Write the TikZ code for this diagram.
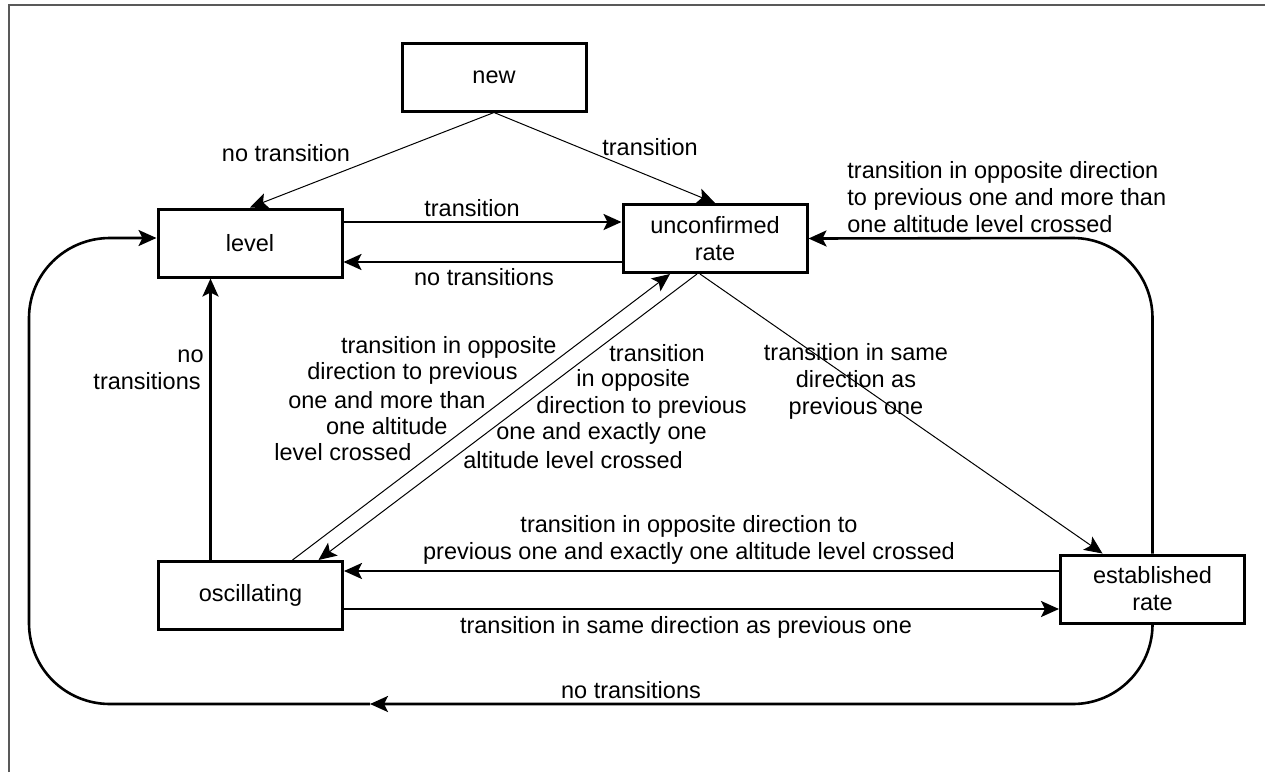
\documentclass[tikz,border=0pt]{standalone}
\usepackage{fontspec}
\setmainfont{Liberation Sans}
\usetikzlibrary{arrows.meta,calc}
\tikzset{
  txt/.style={font=\fontsize{11.75}{13.5}\selectfont},
  state/.style={txt, draw, line width=1.5pt, minimum width=92pt, minimum height=34pt,
    inner sep=0pt, align=center},
  thickline/.style={line width=1.3pt},
  thinline/.style={line width=0.5pt},
  tip/.style={-{Stealth[length=9pt,width=8pt,inset=2pt]}},
  lbl/.style={txt, inner sep=0pt},
  frameline/.style={draw=black!65, line width=1pt}
}
\begin{document}
\begin{tikzpicture}[x=0.5pt,y=-0.5pt]
\useasboundingbox (0,0) rectangle (1265,772);
\fill[white] (0,0) rectangle (1265,772);
\draw[frameline] (9,772) -- (9,5) -- (1265,5);

% states
\node[state] (new)   at (494,77)      {new};
\node[state] (level) at (250,243)     {level};
\node[state] (unc)   at (715,238.5)   {unconfirmed\\rate};
\node[state] (osc)   at (250.5,595.5) {oscillating};
\node[state] (est)   at (1152.5,589)  {established\\rate};

% transitions out of "new"
\draw[thinline,tip] (new.south) -- (level.north);
\draw[thinline,tip] (new.south) -- (unc.north);
\node[lbl] (l1) at (286,153) {no transition};
\node[lbl] (l2) at (650,147) {transition};

% level <-> unconfirmed rate
\draw[thickline,tip] ([yshift=10.5pt]level.east) -- ([yshift=10.5pt]level.east -| unc.west);
\draw[thickline,tip] ([yshift=-11.75pt]unc.west) -- ([yshift=-11.75pt]unc.west -| level.east);
\node[lbl] (l3) at (472,208) {transition};
\node[lbl] (l4) at (484,277) {no transitions};

% oscillating -> level
\draw[thickline,tip] ([xshift=-20pt]osc.north) -- ([xshift=-20pt]osc.north |- level.south);
\node[lbl,anchor=east] (l5a) at (204,356) {no};
\node[lbl,anchor=east] (l5b) at (201,381) {transitions};

% oscillating <-> unconfirmed rate
\draw[thinline,tip] ([xshift=21pt]osc.north) -- ([xshift=-22.5pt]unc.south);
\draw[thinline,tip] ([xshift=-9pt]unc.south) -- ([xshift=34pt]osc.north);
\node[lbl,anchor=east] (l6a) at (557,347) {transition in opposite};
\node[lbl,anchor=east] (l6b) at (518,373) {direction to previous};
\node[lbl,anchor=east] (l6c) at (486,400) {one and more than};
\node[lbl,anchor=east] (l6d) at (448,426) {one altitude};
\node[lbl,anchor=east] (l6e) at (412,452) {level crossed};
\node[lbl,anchor=west] (l7a) at (609,353) {transition};
\node[lbl,anchor=west] (l7b) at (576,380) {in opposite};
\node[lbl,anchor=west] (l7c) at (536,407) {direction to previous};
\node[lbl,anchor=west] (l7d) at (496,433) {one and exactly one};
\node[lbl,anchor=west] (l7e) at (463,460) {altitude level crossed};

% unconfirmed rate -> established rate
\draw[thinline,tip] ([xshift=-7.5pt]unc.south) -- ([xshift=-25pt]est.north);
\node[lbl,align=center] (l8) at (856,381) {transition in same\\direction as\\previous one};

% oscillating <-> established rate
\draw[thickline,tip] ([yshift=9pt]est.west) -- ([yshift=9pt]est.west -| osc.east);
\draw[thickline,tip] ([yshift=-6.75pt]osc.east) -- ([yshift=-6.75pt]osc.east -| est.west);
\node[lbl,align=center] (l9) at (689,540) {transition in opposite direction to\\previous one and exactly one altitude level crossed};
\node[lbl] (l10) at (686,627) {transition in same direction as previous one};

% established rate -> unconfirmed rate (right loop)
\draw[thickline,tip] (est.north) -- (est.north |- 0,318)
  .. controls (1152.5,274) and (1117,238) .. (1073,238) -- (unc.east);
\node[lbl,align=left,anchor=west] (l11) at (847,197)
  {transition in opposite direction\\to previous one and more than\\one altitude level crossed};

% established rate -> level (outer loop)
\coordinate (mid) at (370,704);
\draw[thickline,tip] (est.south) .. controls (1152.5,668) and (1117,704) .. (1073,704) -- (mid);
\draw[thickline,tip] (mid) -- (110,704) .. controls (65,704) and (29,668) .. (29,623)
  -- (29,318) .. controls (29,274) and (65,238) .. (110,238) -- ([yshift=2.5pt]level.west);
\node[lbl] (l12) at (631,690) {no transitions};
\end{tikzpicture}
\end{document}
